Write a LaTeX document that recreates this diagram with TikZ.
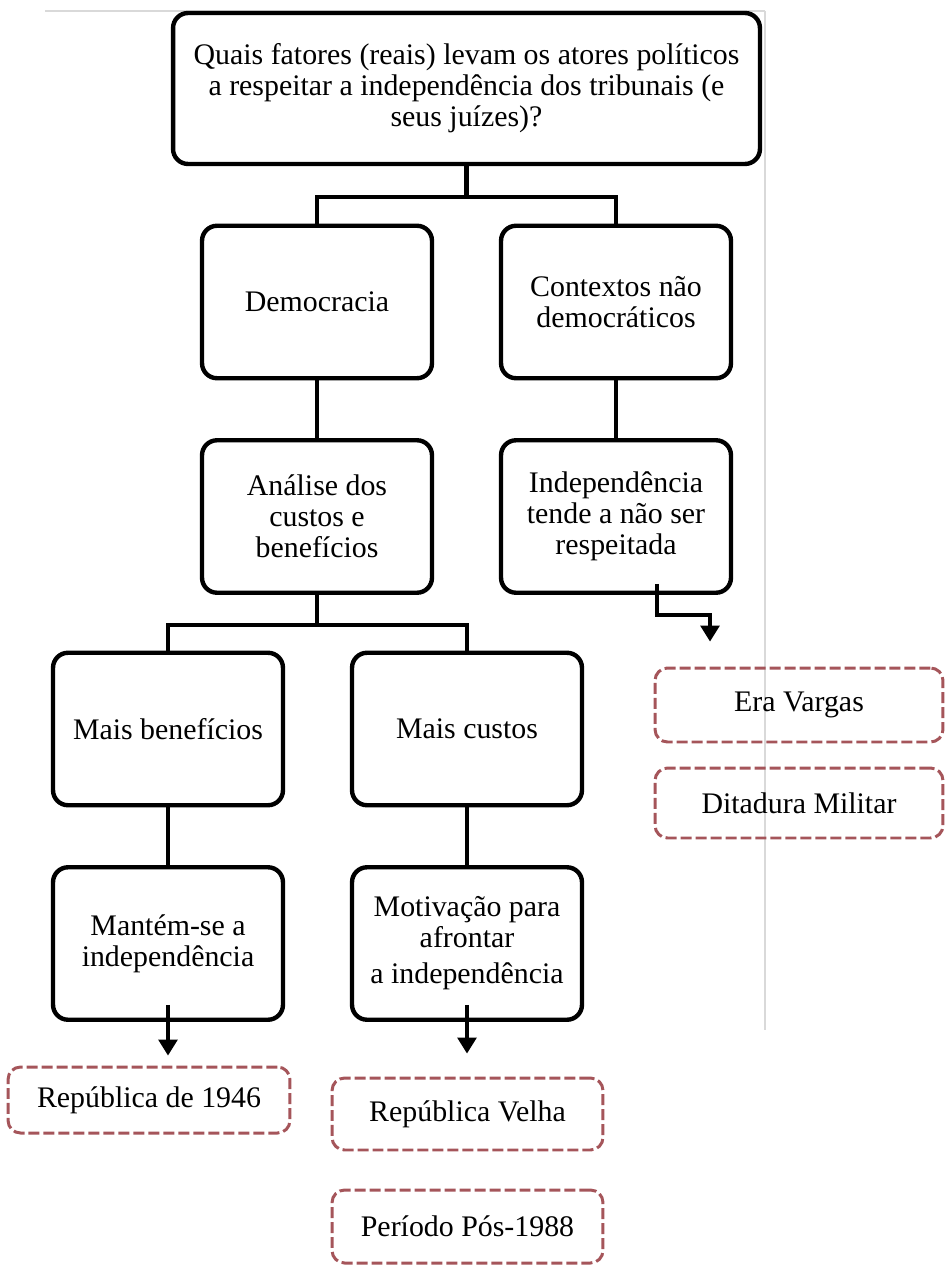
\documentclass[tikz,border=0pt]{standalone}
\usepackage{fontspec}
\setmainfont{Liberation Serif}
\usetikzlibrary{arrows.meta}

\definecolor{tracoverm}{RGB}{165,85,90}
\newcommand{\textofig}{\fontsize{17}{17.6}\selectfont}

\tikzstyle{caixa}   = [draw=black, line width=2.5pt, fill=white, rounded corners=3mm, align=center, inner sep=2pt, font=\textofig, minimum width=4.6cm, minimum height=3.05cm]
\tikzstyle{periodo} = [draw=tracoverm, line width=1.7pt, dash pattern=on 2.2mm off 0.8mm, rounded corners=2.5mm, align=center, inner sep=2pt, font=\textofig]
\tikzstyle{liga}    = [line width=2.5pt]
\tikzstyle{seta}    = [line width=1.8pt, -{Triangle[width=3.8mm,length=3.2mm]}]

\begin{document}
\begin{tikzpicture}[x=0.02cm, y=-0.02cm]
  \useasboundingbox (0,0) rectangle (945,1266);
  \draw[gray!30, line width=0.8pt] (45,11) -- (765,11);
  \draw[gray!30, line width=0.8pt] (765,11) -- (765,1030);

  \node[caixa, minimum width=11.74cm, minimum height=3.02cm] (quest) at (466.5,88.5)
    {Quais fatores (reais) levam os atores políticos\\ a respeitar a independência dos tribunais (e\\ seus juízes)?};
  \node[caixa] (dem)    at (317,302)   {Democracia};
  \node[caixa] (ctx)    at (616,302)   {Contextos não\\ democráticos};
  \node[caixa] (ana)    at (317,516.5) {Análise dos\\ custos e\\ benefícios};
  \node[caixa] (indep)  at (616,516.5) {Independência\\ tende a não ser\\ respeitada};
  \node[caixa] (mb)     at (168,729)   {Mais benefícios};
  \node[caixa] (mc)     at (467,729)   {Mais custos};
  \node[caixa] (mantem) at (168,943.5) {Mantém-se a\\ independência};
  \node[caixa] (motiv)  at (467,943.5) {Motivação para\\ afrontar\\[3pt] a independência};

  \node[periodo, minimum width=5.64cm, minimum height=1.32cm] (rep46)    at (149,1100)   {República de 1946};
  \node[periodo, minimum width=5.42cm, minimum height=1.44cm] (velha)    at (467.5,1114) {República Velha};
  \node[periodo, minimum width=5.42cm, minimum height=1.46cm] (pos88)    at (467.5,1226.5) {Período Pós-1988};
  \node[periodo, minimum width=5.76cm, minimum height=1.48cm] (vargas)   at (799,705)    {Era Vargas};
  \node[periodo, minimum width=5.76cm, minimum height=1.40cm] (ditadura) at (799,803)    {Ditadura Militar};

  \draw[liga] (quest.south) -- ++(0,31) -| (dem.north);
  \draw[liga] (quest.south) -- ++(0,31) -| (ctx.north);
  \draw[liga] (dem) -- (ana);
  \draw[liga] (ctx) -- (indep);
  \draw[liga] (ana.south) -- ++(0,30) -| (mb.north);
  \draw[liga] (ana.south) -- ++(0,30) -| (mc.north);
  \draw[liga] (mb) -- (mantem);
  \draw[liga] (mc) -- (motiv);

  \coordinate (vtip) at ([xshift=-1.78cm,yshift=0.5cm]vargas.north);
  \draw[seta] ([xshift=0.82cm,yshift=0.22cm]indep.south) -- ++(0,31) -| (vtip);
  \draw[seta, shorten >=0.2cm] ([yshift=0.34cm]mantem.south) -- (mantem.south |- rep46.north);
  \draw[seta, shorten >=0.46cm] ([yshift=0.34cm]motiv.south) -- (motiv.south |- velha.north);
\end{tikzpicture}
\end{document}
